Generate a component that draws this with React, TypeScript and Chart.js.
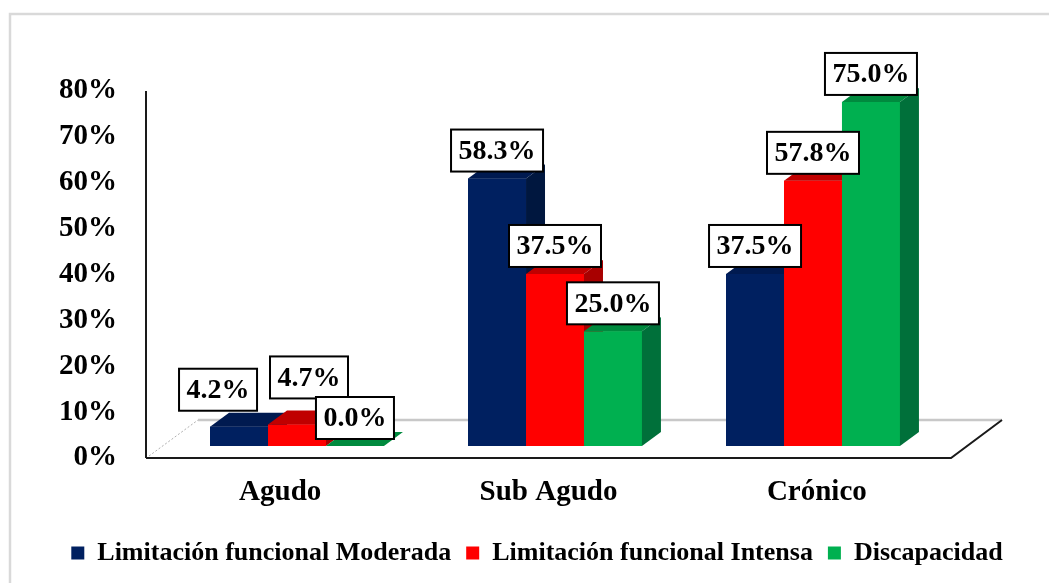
import React, { useEffect, useRef } from "react";
import { Chart, registerables } from "chart.js";

Chart.register(...registerables);

// ---- data ----
const categories = ["Agudo", "Sub Agudo", "Crónico"];
const seriesNames = [
  "Limitación funcional Moderada",
  "Limitación funcional Intensa",
  "Discapacidad",
];
const moderada = [4.2, 58.3, 37.5];
const intensa = [4.7, 37.5, 57.8];
const discapacidad = [0.0, 25.0, 75.0];
const yMax = 80;
const yStep = 10;

// ---- styles ----
const FONT = "'Liberation Serif', 'Times New Roman', serif";
const FRONT = ["#002060", "#FF0000", "#00B050"];
const TOP = ["#001a50", "#c00000", "#008a3e"];
const SIDE = ["#00173f", "#a80000", "#00703a"];
const DX = 19;
const DY = -14;
// small manual nudges for the crowded labels (dx, dy) keyed "dataset-index"
const labelNudge: Record<string, [number, number]> = {
  "0-0": [-21, -9],
  "1-0": [12, -19],
};

const threeD = {
  id: "threeD",
  beforeDraw(chart: any) {
    const { ctx } = chart;
    ctx.save();
    ctx.fillStyle = "#ffffff";
    ctx.fillRect(0, 0, chart.width, chart.height);
    ctx.strokeStyle = "#d9d9d9";
    ctx.lineWidth = 2.5;
    ctx.beginPath();
    ctx.moveTo(10, chart.height + 5);
    ctx.lineTo(10, 14);
    ctx.lineTo(chart.width + 5, 14);
    ctx.stroke();
    ctx.restore();
  },
  beforeDatasetsDraw(chart: any) {
    const { ctx, chartArea: a } = chart;
    const yS = chart.scales.y;
    const fy = a.bottom + 12;
    const fl = a.left - 22;
    const fr = a.right + 9;
    const by = fy - 38;
    const bl = fl + 52;
    const br = fr + 51;
    ctx.save();
    // back edge of the floor
    ctx.strokeStyle = "#c8c8c8";
    ctx.lineWidth = 2.5;
    ctx.beginPath();
    ctx.moveTo(bl, by);
    ctx.lineTo(br, by);
    ctx.stroke();
    // left edge dashed
    ctx.strokeStyle = "#b0b0b0";
    ctx.lineWidth = 1;
    ctx.setLineDash([2, 2]);
    ctx.beginPath();
    ctx.moveTo(fl + 3, fy - 2);
    ctx.lineTo(bl, by);
    ctx.stroke();
    ctx.setLineDash([]);
    // front + right edges
    ctx.strokeStyle = "#1a1a1a";
    ctx.lineWidth = 2;
    ctx.beginPath();
    ctx.moveTo(fl, fy);
    ctx.lineTo(fr, fy);
    ctx.lineTo(br, by);
    ctx.stroke();
    // y axis line
    ctx.beginPath();
    ctx.moveTo(fl, yS.getPixelForValue(yMax) + 12);
    ctx.lineTo(fl, fy);
    ctx.stroke();
    ctx.restore();
  },
  afterDatasetsDraw(chart: any) {
    const { ctx, chartArea: a } = chart;
    const nD = chart.data.datasets.length;
    const nC = chart.data.labels.length;
    ctx.save();
    // bars, left to right
    for (let i = 0; i < nC; i++) {
      for (let d = 0; d < nD; d++) {
        const el = chart.getDatasetMeta(d).data[i];
        const { x, y, base, width } = el.getProps(["x", "y", "base", "width"], true);
        const x0 = x - width / 2;
        const x1 = x + width / 2;
        ctx.fillStyle = FRONT[d];
        ctx.fillRect(x0, y, width, base - y);
        ctx.fillStyle = TOP[d];
        ctx.beginPath();
        ctx.moveTo(x0, y);
        ctx.lineTo(x1, y);
        ctx.lineTo(x1 + DX, y + DY);
        ctx.lineTo(x0 + DX, y + DY);
        ctx.closePath();
        ctx.fill();
        ctx.fillStyle = SIDE[d];
        ctx.beginPath();
        ctx.moveTo(x1, y);
        ctx.lineTo(x1 + DX, y + DY);
        ctx.lineTo(x1 + DX, base + DY);
        ctx.lineTo(x1, base);
        ctx.closePath();
        ctx.fill();
      }
    }
    // data labels
    ctx.font = `bold 28px ${FONT}`;
    ctx.textAlign = "center";
    ctx.textBaseline = "middle";
    for (let i = 0; i < nC; i++) {
      for (let d = 0; d < nD; d++) {
        const el = chart.getDatasetMeta(d).data[i];
        const { x, y } = el.getProps(["x", "y"], true);
        const v = chart.data.datasets[d].data[i] as number;
        const txt = v.toFixed(1) + "%";
        const nud = labelNudge[`${d}-${i}`] || [0, 0];
        const w = ctx.measureText(txt).width + 15;
        const h = 42;
        const cx = x + nud[0];
        const bottom = y - 7 + nud[1];
        ctx.fillStyle = "#ffffff";
        ctx.fillRect(cx - w / 2, bottom - h, w, h);
        ctx.strokeStyle = "#000000";
        ctx.lineWidth = 2;
        ctx.strokeRect(cx - w / 2, bottom - h, w, h);
        ctx.fillStyle = "#000000";
        ctx.fillText(txt, cx, bottom - h / 2 + 1);
      }
    }
    // category labels on the front floor plane
    const fl = a.left - 22;
    const fr = a.right + 9;
    ctx.font = `bold 29px ${FONT}`;
    ctx.textBaseline = "alphabetic";
    ctx.fillStyle = "#000000";
    for (let i = 0; i < nC; i++) {
      const cx = fl + ((i + 0.5) * (fr - fl)) / nC;
      ctx.fillText(String(chart.data.labels[i]), cx, a.bottom + 54);
    }
    ctx.restore();
  },
};

export default function App() {
  const ref = useRef<HTMLCanvasElement>(null);
  useEffect(() => {
    const series = [moderada, intensa, discapacidad];
    const chart = new Chart(ref.current as HTMLCanvasElement, {
      type: "bar",
      data: {
        labels: categories,
        datasets: series.map((s, d) => ({
          label: seriesNames[d],
          data: s,
          backgroundColor: FRONT[d],
          borderWidth: 0,
          categoryPercentage: 0.674,
          barPercentage: 1,
        })),
      },
      options: {
        animation: false,
        responsive: true,
        maintainAspectRatio: false,
        layout: { padding: { top: 79, left: 25, right: 0, bottom: 7 } },
        plugins: {
          tooltip: { enabled: false },
          legend: {
            position: "bottom",
            labels: {
              boxWidth: 13,
              boxHeight: 13,
              padding: 15,
              color: "#000000",
              font: { family: FONT, size: 26, weight: "bold" },
            },
          },
        },
        scales: {
          x: {
            grid: { display: false },
            border: { display: false },
            ticks: { display: false },
            afterFit: (s: any) => {
              s.height = 79;
            },
          },
          y: {
            min: 0,
            max: yMax,
            grid: { display: false, drawTicks: false },
            border: { display: false },
            ticks: {
              stepSize: yStep,
              autoSkip: false,
              padding: 51,
              labelOffset: 12,
              color: "#000000",
              font: { family: FONT, size: 29, weight: "bold" },
              callback: (v: any) => `${v}%`,
            },
            afterFit: (s: any) => {
              s.width = 143;
            },
          },
          y2: {
            position: "right",
            display: true,
            grid: { display: false, drawTicks: false },
            border: { display: false },
            ticks: { display: false },
            afterFit: (s: any) => {
              s.width = 107;
            },
          },
        },
      },
      plugins: [threeD],
    });
    return () => chart.destroy();
  }, []);
  return (
    <div
      style={{
        position: "fixed",
        left: 0,
        top: 0,
        width: 1049,
        height: 583,
        background: "#ffffff",
      }}
    >
      <canvas ref={ref} />
    </div>
  );
}
